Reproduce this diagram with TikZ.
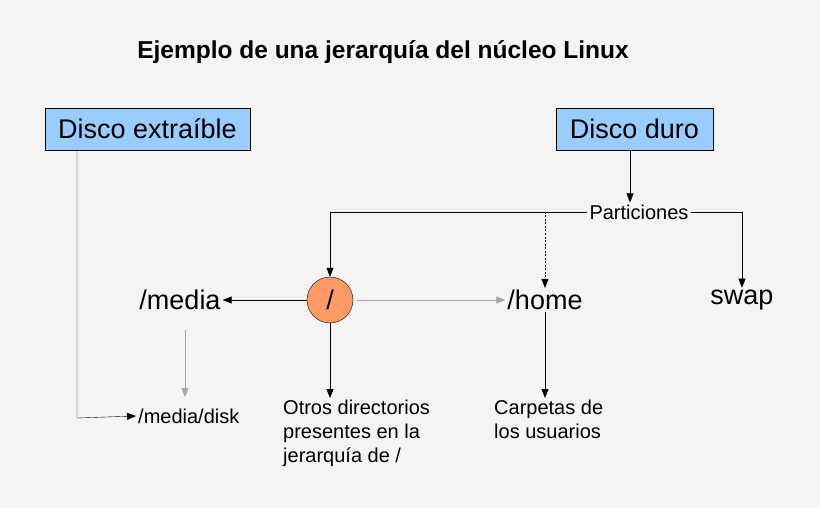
\documentclass[tikz,border=0pt]{standalone}
\usepackage{fontspec}
\setmainfont{Liberation Sans}
\usetikzlibrary{arrows.meta}
\definecolor{bg}{HTML}{F4F4F4}
\definecolor{boxblue}{HTML}{99CCFF}
\definecolor{rootor}{HTML}{FF9966}
\tikzset{
  blk/.style={-{Triangle[length=9pt,width=7pt]},black},
  gry/.style={-{Triangle[length=9pt,width=7pt]},gray!70},
  bigbox/.style={draw,fill=boxblue,minimum height=42pt,font=\fontsize{27}{30}\selectfont},
  big/.style={font=\fontsize{27}{30}\selectfont,inner sep=2pt},
  small/.style={font=\fontsize{20}{24}\selectfont,inner sep=2pt}
}
\begin{document}
\begin{tikzpicture}[x=1pt,y=-1pt]
\fill[bg] (0,0) rectangle (820,508);
\useasboundingbox (0,0) rectangle (820,508);
\node[font=\bfseries\fontsize{24.5}{28}\selectfont] (title) at (383,52) {Ejemplo de una jerarquía del núcleo Linux};
\node[bigbox,minimum width=205pt] (ext) at (147.5,129) {Disco extraíble};
\node[bigbox,minimum width=157pt] (duro) at (634.5,129) {Disco duro};
\node[small] (part) at (639,212) {Particiones};
\node[draw,circle,fill=rootor,minimum size=46pt,inner sep=0pt,font=\fontsize{27}{30}\selectfont] (root) at (330,300) {/};
\node[big] (media) at (180,300) {/media};
\node[big] (home) at (545,300) {/home};
\node[big] (swap) at (742,300) {swap};
\node[small,anchor=west] (disk) at (136,416) {/media/disk};
\node[small,anchor=north west,align=left] (otros) at (281,398) {Otros directorios\\presentes en la\\jerarquía de /};
\node[small,anchor=north west,align=left] (carp) at (492,398) {Carpetas de\\los usuarios};
\coordinate (d1) at (630,150);
\coordinate (e1) at (77,150);
\coordinate (ec) at (77,418);
\coordinate (pc) at (330,212);
\coordinate (hc) at (545,212);
\draw[blk] (d1) -- (part.north -| d1);
\draw[blk] (part.west) -- (pc) -- (root.north);
\draw[blk,dash pattern=on 2pt off 1.5pt] (hc) -- (home.north);
\draw[blk] (part.east) -| (swap.north);
\draw[blk] (root.west) -- (media.east);
\draw[gry] ([xshift=4pt]root.east) -- (home.west);
\draw[gry] (185,330) -- (185,397);
\draw[blk] (root.south) -- (otros.north -| root.south);
\draw[blk] (home.south) -- (carp.north -| home.south);
\draw[blk] (e1) -- (ec) -- (disk.west);
\end{tikzpicture}
\end{document}
